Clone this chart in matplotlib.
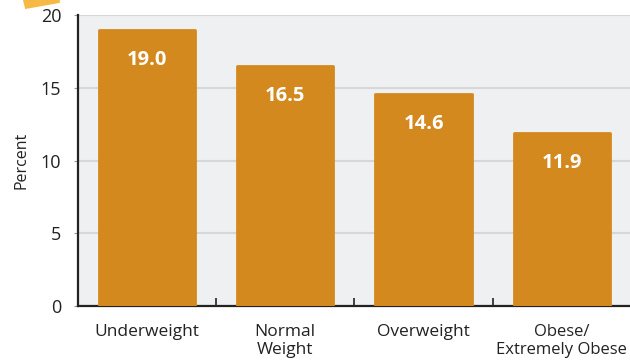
import matplotlib
matplotlib.use("Agg")
import matplotlib.pyplot as plt
from matplotlib.patches import Polygon

# data
categories = ["Underweight", "Normal\nWeight", "Overweight", "Obese/\nExtremely Obese"]
values = [19.0, 16.5, 14.6, 11.9]
yticks = [0, 5, 10, 15, 20]

BAR = "#D3891E"
BG = "#EFF0F2"

plt.rcParams["font.family"] = ["Open Sans", "DejaVu Sans"]

fig = plt.figure(figsize=(6.3, 3.61), dpi=100)
ax = fig.add_axes([0.1238, 0.1524, 0.8775, 0.806])
ax.set_facecolor(BG)

x = range(len(categories))
bars = ax.bar(x, values, width=0.695, color=BAR, edgecolor=BAR,
              linewidth=2.0, joinstyle="round", zorder=3)
for b, v in zip(bars, values):
    ax.text(b.get_x() + b.get_width() / 2, v - 2.1, f"{v:.1f}",
            ha="center", va="center", color="white", fontsize=14.5,
            fontweight="bold", zorder=4)

ax.set_xlim(-0.5, 3.5)
ax.set_ylim(0, 20)
ax.set_yticks(yticks)
ax.set_yticklabels([str(t) for t in yticks], fontsize=13, color="#222222")
ax.yaxis.grid(True, color="#D6D7D9", linewidth=1.5, zorder=0)
ax.set_axisbelow(True)

ax.set_xticks(list(x))
labels = ax.set_xticklabels(categories, fontsize=12.5, color="#222222",
                            linespacing=1.2)
labels[3].set_fontsize(12)
ax.tick_params(axis="x", length=0, pad=13)
ax.tick_params(axis="y", length=3, color="#999999", pad=9)
ax.set_xticks([0.5, 1.5, 2.5], minor=True)
ax.tick_params(axis="x", which="minor", direction="in", length=6,
               width=1.2, color="#222222")

for s in ["top", "right"]:
    ax.spines[s].set_visible(False)
for s in ["left", "bottom"]:
    ax.spines[s].set_color("#222222")
    ax.spines[s].set_linewidth(1.6)

ax.set_ylabel("Percent", fontsize=11.5, color="#222222", labelpad=8)

# decorative tilted tab at top left
tab = Polygon([(0.04, 0.975), (0.095, 0.992), (0.095, 1.01), (0.035, 1.01)],
              closed=True, transform=fig.transFigure, facecolor="#F7B945",
              edgecolor="none")
fig.patches.append(tab)

fig.savefig("out.png", dpi=100)
